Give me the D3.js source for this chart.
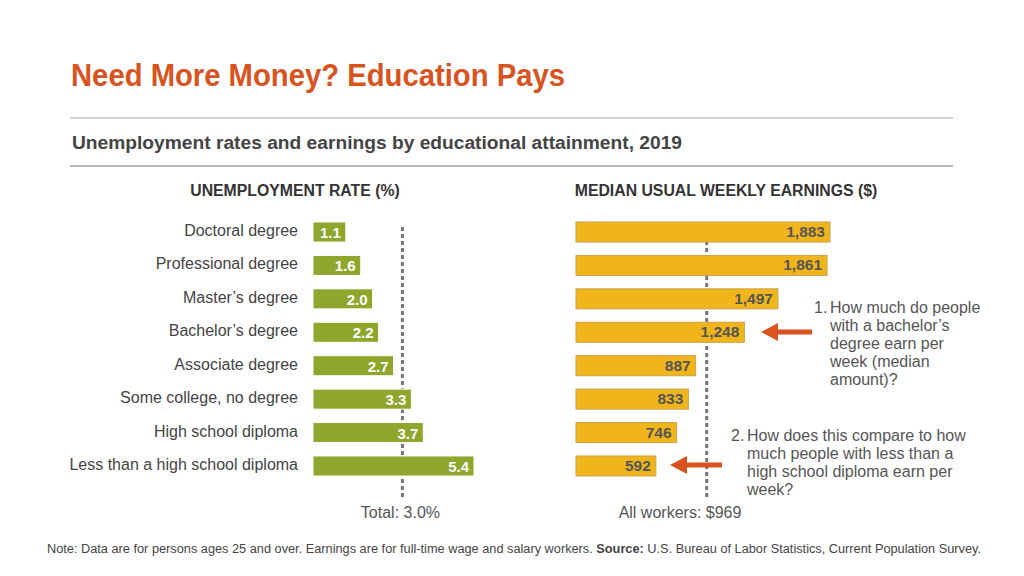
<!DOCTYPE html>
<html><head><meta charset="utf-8">
<script src="https://cdn.jsdelivr.net/npm/d3@7"></script>
<style>body{margin:0;background:#fff;} svg{display:block;font-family:"Liberation Sans",Arial,sans-serif;}</style>
</head><body><svg id="c" width="1024" height="576"></svg>
<script>
const categories = ["Doctoral degree","Professional degree","Master\u2019s degree","Bachelor\u2019s degree","Associate degree","Some college, no degree","High school diploma","Less than a high school diploma"];
const unemploymentRates = [1.1,1.6,2.0,2.2,2.7,3.3,3.7,5.4];
const weeklyEarnings = [1883,1861,1497,1248,887,833,746,592];
const totalRate = 3.0;
const allWorkersEarnings = 969;

const svg = d3.select("#c");
const orange = "#D9531E";

// Title & header
svg.append("text").attr("x",71).attr("y",86).attr("fill",orange)
  .attr("font-weight","bold").attr("font-size",31.5)
  .attr("textLength",494).attr("lengthAdjust","spacingAndGlyphs")
  .text("Need More Money? Education Pays");
svg.append("line").attr("x1",70).attr("x2",953).attr("y1",118).attr("y2",118).attr("stroke","#c4c4c4").attr("stroke-width",1.5);
svg.append("text").attr("x",72).attr("y",149).attr("fill","#444").attr("font-weight","bold").attr("font-size",18)
  .attr("textLength",610).attr("lengthAdjust","spacingAndGlyphs")
  .text("Unemployment rates and earnings by educational attainment, 2019");
svg.append("line").attr("x1",70).attr("x2",953).attr("y1",166).attr("y2",166).attr("stroke","#777").attr("stroke-width",1);

svg.append("text").attr("x",295).attr("y",196).attr("text-anchor","middle").attr("fill","#333").attr("font-weight","bold").attr("font-size",15.8)
  .text("UNEMPLOYMENT RATE (%)");
svg.append("text").attr("x",726).attr("y",196).attr("text-anchor","middle").attr("fill","#333").attr("font-weight","bold").attr("font-size",15.8)
  .text("MEDIAN USUAL WEEKLY EARNINGS ($)");

const y = d3.scaleBand().domain(categories).range([215.3,482.7]).paddingInner(0.4).paddingOuter(0.2);
const xU = d3.scaleLinear().domain([0,5.4]).range([313,474]);
const xE = d3.scaleLinear().domain([0,1883]).range([576,830]);

// category labels
svg.append("g").selectAll("text").data(categories).join("text")
  .attr("x",298).attr("y",d=>y(d)+y.bandwidth()/2+4).attr("text-anchor","end")
  .attr("fill","#444").attr("font-size",16).text(d=>d);

// dashed reference lines
svg.append("line").attr("x1",xU(totalRate)).attr("x2",xU(totalRate)).attr("y1",227).attr("y2",497)
  .attr("stroke","#777").attr("stroke-width",3).attr("stroke-dasharray","4,3");
svg.append("line").attr("x1",xE(allWorkersEarnings)).attr("x2",xE(allWorkersEarnings)).attr("y1",227).attr("y2",497)
  .attr("stroke","#777").attr("stroke-width",3).attr("stroke-dasharray","4,3");

// unemployment bars
const ug = svg.append("g");
ug.selectAll("rect").data(unemploymentRates).join("rect")
  .attr("x",xU(0)).attr("y",(d,i)=>y(categories[i])).attr("width",d=>xU(d)-xU(0)).attr("height",y.bandwidth())
  .attr("fill","#8FA62D").attr("stroke","#fff").attr("stroke-width",1);
ug.selectAll("text").data(unemploymentRates).join("text")
  .attr("x",d=>xU(d)-5).attr("y",(d,i)=>y(categories[i])+y.bandwidth()/2+6).attr("text-anchor","end")
  .attr("fill","#fff").attr("font-weight","bold").attr("font-size",15).text(d=>d3.format(".1f")(d));

// earnings bars
const eg = svg.append("g");
eg.selectAll("rect").data(weeklyEarnings).join("rect")
  .attr("x",xE(0)).attr("y",(d,i)=>y(categories[i])).attr("width",d=>xE(d)-xE(0)).attr("height",y.bandwidth())
  .attr("fill","#F1B51C").attr("stroke","#c9a24a").attr("stroke-width",1);
eg.selectAll("text").data(weeklyEarnings).join("text")
  .attr("x",d=>xE(d)-5).attr("y",(d,i)=>y(categories[i])+y.bandwidth()/2+5).attr("text-anchor","end")
  .attr("fill","#555").attr("font-weight","bold").attr("font-size",15.5).text(d=>d3.format(",")(d));

// bottom labels
svg.append("text").attr("x",xU(totalRate)-2).attr("y",518).attr("text-anchor","middle").attr("fill","#555").attr("font-size",16).text("Total: 3.0%");
svg.append("text").attr("x",680).attr("y",518).attr("text-anchor","middle").attr("fill","#555").attr("font-size",16).text("All workers: $969");

// arrows
function arrow(x1,x2,yy){
  svg.append("line").attr("x1",x1).attr("x2",x2+12).attr("y1",yy).attr("y2",yy).attr("stroke",orange).attr("stroke-width",5);
  svg.append("path").attr("d",`M${x2},${yy} L${x2+17},${yy-9} L${x2+17},${yy+9} Z`).attr("fill",orange);
}
arrow(812,761,332);
arrow(722,670,465);

// annotations
function note(num,xn,xt,y0,lines){
  svg.append("text").attr("x",xn).attr("y",y0).attr("fill","#555").attr("font-size",16).text(num);
  const t = svg.append("text").attr("x",xt).attr("y",y0).attr("fill","#555").attr("font-size",16);
  lines.forEach((l,i)=>t.append("tspan").attr("x",xt).attr("y",y0+i*18).text(l));
}
note("1.",814,830,313,["How much do people","with a bachelor\u2019s","degree earn per","week (median","amount)?"]);
note("2.",731,747,441,["How does this compare to how","much people with less than a","high school diploma earn per","week?"]);

// footnote
const fn = svg.append("text").attr("x",47).attr("y",553).attr("fill","#444").attr("font-size",12).attr("textLength",934).attr("lengthAdjust","spacingAndGlyphs");
fn.append("tspan").text("Note: Data are for persons ages 25 and over. Earnings are for full-time wage and salary workers. ");
fn.append("tspan").attr("font-weight","bold").text("Source:");
fn.append("tspan").text(" U.S. Bureau of Labor Statistics, Current Population Survey.");
</script></body></html>
